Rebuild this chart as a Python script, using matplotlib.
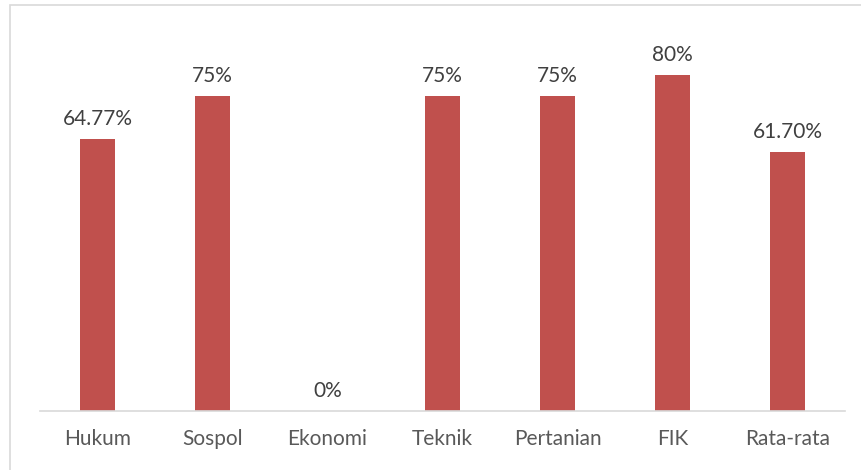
import matplotlib.pyplot as plt
from matplotlib.patches import Rectangle

categories = ['Hukum', 'Sospol', 'Ekonomi', 'Teknik', 'Pertanian', 'FIK', 'Rata-rata']
values = [64.77, 75, 0, 75, 75, 80, 61.70]
labels = ['64.77%', '75%', '0%', '75%', '75%', '80%', '61.70%']

plt.rcParams['font.family'] = ['Lato', 'DejaVu Sans']

fig = plt.figure(figsize=(8.62, 4.70), dpi=100)
# chart area border (Excel style)
fig.patches.append(Rectangle((10 / 862, -0.05), 1.2, 1 - 5 / 470 + 0.05,
                             transform=fig.transFigure, fill=False,
                             edgecolor='#D9D9D9', linewidth=1.2))

ax = fig.add_axes([40 / 862, 1 - 411 / 470, 805 / 862, 378 / 470])
x = range(len(categories))
bars = ax.bar(x, values, width=0.31, color='#C0504D')
ax.set_xlim(-0.5, len(categories) - 0.5)
ax.set_ylim(0, 90)

for xi, v, lab in zip(x, values, labels):
    ax.annotate(lab, (xi, v), xytext=(0, 7), textcoords='offset points',
                ha='center', va='bottom', fontsize=15, color='#404040')

ax.set_xticks(list(x))
ax.set_xticklabels(categories, fontsize=15, color='#595959')
ax.tick_params(axis='x', length=0, pad=13)
ax.set_yticks([])
for s in ['top', 'right', 'left']:
    ax.spines[s].set_visible(False)
ax.spines['bottom'].set_color('#D9D9D9')
ax.spines['bottom'].set_linewidth(1.2)

fig.savefig('out.png', dpi=100)
